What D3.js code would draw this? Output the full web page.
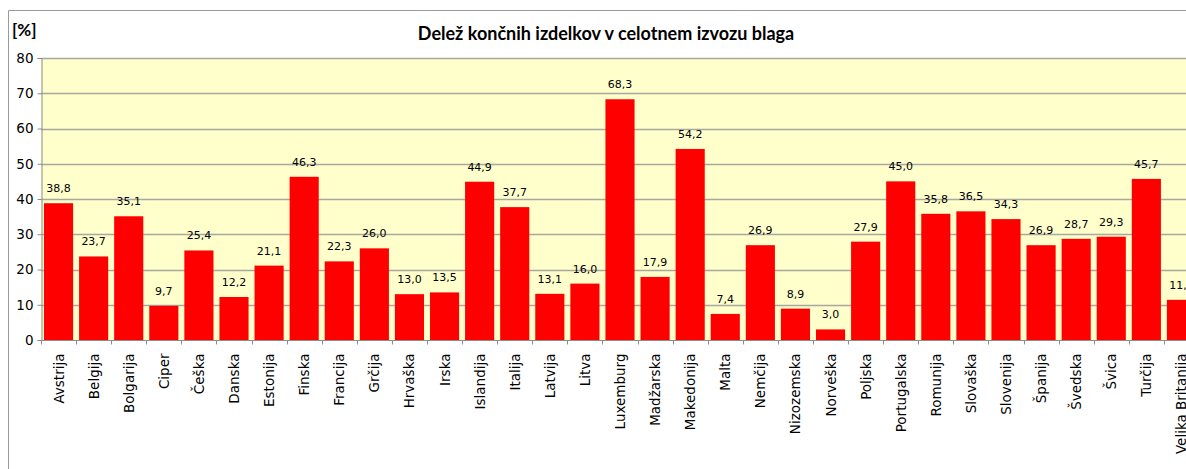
<!DOCTYPE html>
<html>
<head>
<meta charset="utf-8">
<script src="https://cdn.jsdelivr.net/npm/d3@7"></script>
<style>
  body { margin: 0; background: #fff; overflow: hidden; }
  svg { display: block; }
</style>
</head>
<body>
<div id="chart"></div>
<script>
// categories and values
const countries = ['Avstrija', 'Belgija', 'Bolgarija', 'Ciper', 'Češka', 'Danska', 'Estonija', 'Finska',
    'Francija', 'Grčija', 'Hrvaška', 'Irska', 'Islandija', 'Italija', 'Latvija', 'Litva', 'Luxemburg',
    'Madžarska', 'Makedonija', 'Malta', 'Nemčija', 'Nizozemska', 'Norveška', 'Poljska', 'Portugalska',
    'Romunija', 'Slovaška', 'Slovenija', 'Španija', 'Švedska', 'Švica', 'Turčija', 'Velika Britanija'];
const shares = [38.8, 23.7, 35.1, 9.7, 25.4, 12.2, 21.1, 46.3, 22.3, 26.0, 13.0, 13.5, 44.9, 37.7, 13.1,
    16.0, 68.3, 17.9, 54.2, 7.4, 26.9, 8.9, 3.0, 27.9, 45.0, 35.8, 36.5, 34.3, 26.9, 28.7, 29.3, 45.7, 11.4];
const yTicks = [0, 10, 20, 30, 40, 50, 60, 70, 80];

const title = 'Delež končnih izdelkov v celotnem izvozu blaga';
const unitLabel = '[%]';

const width = 1186;
const height = 469;
const plot = { left: 41, right: 1199, top: 58, bottom: 340 };

const svg = d3.select('#chart')
    .append('svg')
    .attr('width', width)
    .attr('height', height);

// chart area frame (runs off the right and bottom edges like the original)
svg.append('path')
    .attr('d', `M8.5,${height} V10.5 H${width}`)
    .attr('fill', 'none')
    .attr('stroke', '#9a9a9a')
    .attr('stroke-width', 1);

const x = d3.scaleBand()
    .domain(countries)
    .range([plot.left, plot.right])
    .paddingInner(0.17)
    .paddingOuter(0.085);

const y = d3.scaleLinear()
    .domain([0, 80])
    .range([plot.bottom, plot.top]);

// plot background
svg.append('rect')
    .attr('x', plot.left)
    .attr('y', plot.top)
    .attr('width', plot.right - plot.left)
    .attr('height', plot.bottom - plot.top)
    .attr('fill', '#ffffcc');

// gridlines
svg.append('g')
    .selectAll('line')
    .data(yTicks.filter(d => d > 0))
    .join('line')
    .attr('x1', plot.left)
    .attr('x2', plot.right)
    .attr('y1', d => Math.round(y(d)) + 0.5)
    .attr('y2', d => Math.round(y(d)) + 0.5)
    .attr('stroke', '#a8a8a0')
    .attr('stroke-width', 1.3);

// bars
svg.append('g')
    .selectAll('rect')
    .data(shares)
    .join('rect')
    .attr('x', (d, i) => x(countries[i]))
    .attr('y', d => y(d))
    .attr('width', x.bandwidth())
    .attr('height', d => y(0) - y(d))
    .attr('fill', '#ff0000');

// data labels
svg.append('g')
    .selectAll('text')
    .data(shares)
    .join('text')
    .attr('x', (d, i) => x(countries[i]) + x.bandwidth() / 2)
    .attr('y', d => y(d) - 11)
    .attr('text-anchor', 'middle')
    .attr('font-family', 'DejaVu Sans')
    .attr('font-size', 11)
    .attr('fill', '#000')
    .text(d => d.toFixed(1).replace('.', ','));

// y axis
const yAxis = svg.append('g')
    .attr('transform', `translate(${plot.left + 0.5},0)`)
    .call(d3.axisLeft(y).tickValues(yTicks).tickSize(4).tickPadding(4));
yAxis.select('.domain').attr('stroke', '#8c8c8c');
yAxis.selectAll('.tick line').attr('stroke', '#8c8c8c');
yAxis.selectAll('.tick text')
    .attr('font-family', 'DejaVu Sans')
    .attr('font-size', 13.5)
    .attr('fill', '#000');

// x axis
const xAxis = svg.append('g')
    .attr('transform', `translate(0,${plot.bottom + 0.5})`);
xAxis.append('line')
    .attr('x1', plot.left)
    .attr('x2', plot.right)
    .attr('stroke', '#8c8c8c');
xAxis.selectAll('.xtick')
    .data(d3.range(countries.length + 1))
    .join('line')
    .attr('class', 'xtick')
    .attr('x1', i => Math.round(plot.left + i * x.step()) + 0.5)
    .attr('x2', i => Math.round(plot.left + i * x.step()) + 0.5)
    .attr('y1', 0)
    .attr('y2', 4)
    .attr('stroke', '#8c8c8c');
xAxis.selectAll('.xlabel')
    .data(countries)
    .join('text')
    .attr('class', 'xlabel')
    .attr('transform', d => `translate(${x(d) + x.bandwidth() / 2 + 5},13) rotate(-90)`)
    .attr('text-anchor', 'end')
    .attr('font-family', 'DejaVu Sans')
    .attr('font-size', 13.5)
    .attr('fill', '#000')
    .text(d => d);

// title and unit
svg.append('text')
    .attr('x', 606)
    .attr('y', 40)
    .attr('text-anchor', 'middle')
    .attr('font-family', 'Lato')
    .attr('font-weight', 'bold')
    .attr('font-size', 18)
    .attr('fill', '#000')
    .text(title);

svg.append('text')
    .attr('x', 12)
    .attr('y', 36)
    .attr('font-family', 'Lato')
    .attr('font-weight', 'bold')
    .attr('font-size', 17)
    .attr('fill', '#000')
    .text(unitLabel);
</script>
</body>
</html>
